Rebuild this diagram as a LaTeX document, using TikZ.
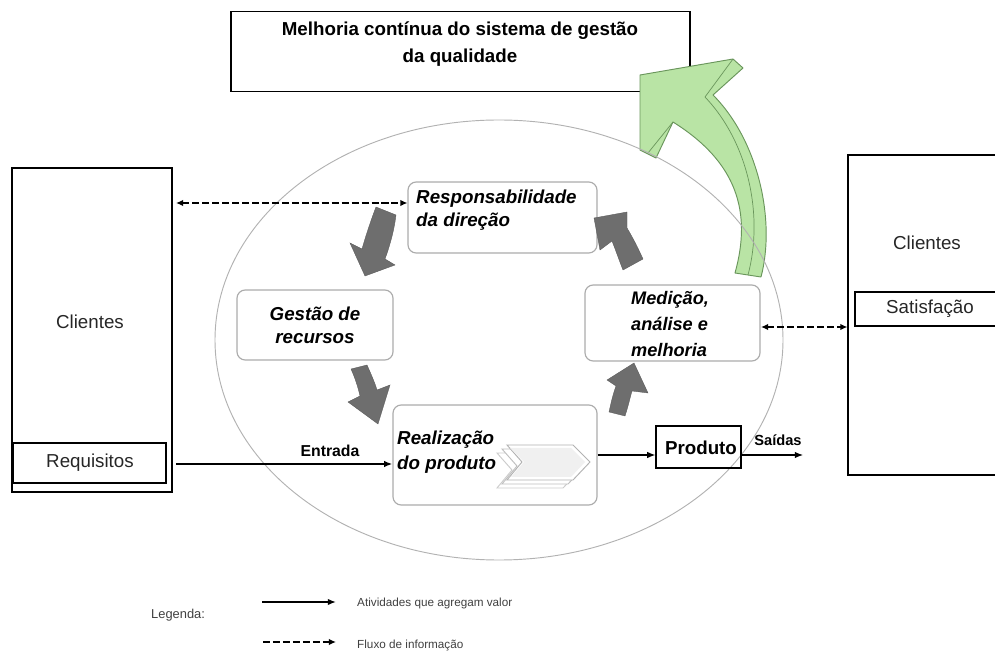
\documentclass[tikz,border=0pt]{standalone}
\usepackage{fontspec}
\setmainfont{Liberation Sans}
\usetikzlibrary{arrows.meta}
\definecolor{garrow}{HTML}{6E6E6E}
\definecolor{gfill}{HTML}{B9E4A5}
\definecolor{gline}{HTML}{6A965C}
\begin{document}
\begin{tikzpicture}[x=0.03cm,y=-0.03cm,
  box/.style={draw=black, line width=1pt, inner sep=0pt},
  rbox/.style={draw=gray!65, line width=1pt, rounded corners=7pt, fill=white, inner sep=0pt},
  lbl/.style={font=\fontsize{16}{19.5}\selectfont\bfseries\itshape, inner sep=0pt},
  plain/.style={font=\fontsize{16}{19}\selectfont, text=black!85, inner sep=0pt},
  small/.style={font=\fontsize{12.5}{15}\selectfont\bfseries, inner sep=0pt},
  leg/.style={font=\fontsize{10}{12}\selectfont, text=black!75, inner sep=0pt, anchor=west},
  sarrow/.style={line width=1pt, -{Latex[length=7pt,width=5.5pt]}},
  darrow/.style={line width=2.1pt, dash pattern=on 6pt off 2.5pt, {Latex[length=6pt,width=5.5pt]}-{Latex[length=6pt,width=5.5pt]}},
  garr/.style={fill=garrow, draw=garrow!80!black, line width=0.3pt},
]
\useasboundingbox (0,0) rectangle (995,654);

% top box
\node[box, minimum width={459*0.03cm}, minimum height={80*0.03cm}] (topbox) at (460.5,51.5) {};
\node[font=\fontsize{16}{23}\selectfont\bfseries, align=center, inner sep=0pt] (toptext) at (460,44)
  {Melhoria contínua do sistema de gestão\\da qualidade};

% green arrow
\fill[gfill, draw=gline, line width=0.8pt, line join=round]
  (640,75) -- (733,59) -- (743,68) -- (713,95)
  .. controls (758,140) and (776,220) .. (761,277)
  -- (735,273)
  .. controls (752,212) and (737,162) .. (673,122)
  -- (656,158) -- (640,150) -- cycle;
\draw[gline, line width=0.6pt] (733,59) -- (705,97) .. controls (748,142) and (764,215) .. (748,275);
\draw[gline, line width=0.6pt] (673,122) -- (648,153);

% ellipse
\draw[gray!60, line width=0.8pt] (499,340) ellipse [x radius=8.52cm, y radius=6.6cm];

% client boxes
\node[box, minimum width={160*0.03cm}, minimum height={324*0.03cm}] (clL) at (92,330) {};
\node[plain] (clLt) at (90,322) {Clientes};
\node[box, minimum width={153*0.03cm}, minimum height={40*0.03cm}] (req) at (89.5,463) {};
\node[plain] (reqt) at (90,463) {Requisitos};

\node[box, minimum width={165*0.03cm}, minimum height={320*0.03cm}] (clR) at (930.5,315) {};
\node[plain] (clRt) at (927,243) {Clientes};
\node[box, minimum width={150*0.03cm}, minimum height={34*0.03cm}] (sat) at (930,309) {};
\node[plain] (satt) at (930,309) {Satisfação};

% process boxes
\node[rbox, minimum width={189*0.03cm}, minimum height={71*0.03cm}] (resp) at (502.5,217.5) {};
\node[lbl, anchor=west, align=left] (respt) at (416,210) {Responsabilidade\\da direção};

\node[rbox, minimum width={156*0.03cm}, minimum height={70*0.03cm}] (gest) at (315,325) {};
\node[lbl, align=center] (gestt) at (315,325) {Gestão de\\recursos};

\node[rbox, minimum width={175*0.03cm}, minimum height={76*0.03cm}] (med) at (672.5,323) {};
\node[lbl, anchor=west, align=left, font=\fontsize{15.5}{22}\selectfont\bfseries\itshape] (medt) at (631,324) {Medição,\\análise e\\melhoria};

\node[rbox, minimum width={204*0.03cm}, minimum height={100*0.03cm}] (real) at (495,455) {};
\node[lbl, anchor=west, align=left, font=\fontsize{16}{21}\selectfont\bfseries\itshape] (realt) at (397,452) {Realização\\do produto};

% chevrons
\foreach \dx/\dy/\c in {-10/8/gray!40, -5/4/gray!50, 0/0/gray!60}{
  \draw[\c, line width=0.8pt, fill=white]
    (507+\dx,445+\dy) -- (573+\dx,445+\dy) -- (590+\dx,462+\dy) -- (573+\dx,480+\dy)
    -- (507+\dx,480+\dy) -- (522+\dx,462+\dy) -- cycle;
}
\fill[gray!12] (510,448) -- (571,448) -- (585,462) -- (571,477) -- (511,477) -- (524,462) -- cycle;

\node[box, minimum width={85*0.03cm}, minimum height={42*0.03cm}] (prod) at (698.5,447) {};
\node[font=\fontsize{16}{19}\selectfont\bfseries, inner sep=0pt] (prodt) at (701,448) {Produto};

% gray cycle arrows
\path[garr] (376,207) -- (396,215) .. controls (394,232) and (389,248) .. (385,259)
  -- (395,265) -- (365,276) -- (350,243) -- (362,249) .. controls (366,235) and (371,220) .. cycle;
\path[garr] (351,369) -- (367,365) .. controls (371,374) and (375,383) .. (377,390)
  -- (390,385) -- (378,424) -- (348,402) -- (360,396) .. controls (358,387) and (355,378) .. cycle;
\path[garr] (609,412) -- (625,416) .. controls (628,407) and (630,398) .. (632,391)
  -- (648,393) -- (634,363) -- (607,380) -- (616,386) .. controls (613,394) and (611,403) .. cycle;
\path[garr] (623,270) -- (643,259) .. controls (638,248) and (633,238) .. (627,228)
  -- (627,212) -- (594,218) -- (600,250) -- (612,241) .. controls (616,251) and (619,260) .. cycle;

% connectors
\coordinate (e1) at (176,464);
\draw[sarrow, line width=1.7pt] (e1) -- (e1 -| real.west);
\node[small, font=\fontsize{13.5}{16}\selectfont\bfseries] (entr) at (330,451) {Entrada};

\draw[sarrow] (real.east) -- (real.east -| prod.west);
\coordinate (s1) at (803,455);
\draw[sarrow] (real.east -| prod.east) -- (s1);
\node[small] (said) at (778,440) {Saídas};

\coordinate (d1) at (176,203);
\draw[darrow] (d1) -- (d1 -| resp.west);
\coordinate (d2) at (761,327);
\draw[darrow] (d2) -- (d2 -| clR.west);

% legend
\node[leg, font=\fontsize{11}{13}\selectfont] (legt) at (151,615) {Legenda:};
\coordinate (l1a) at (262,602);
\coordinate (l1b) at (336,602);
\draw[sarrow, line width=1.2pt] (l1a) -- (l1b);
\node[leg] (leg1) at (357,603) {Atividades que agregam valor};
\coordinate (l2a) at (263,642);
\coordinate (l2b) at (336,642);
\draw[line width=2.1pt, dash pattern=on 6pt off 2.5pt, -{Latex[length=6pt,width=5.5pt]}] (l2a) -- (l2b);
\node[leg] (leg2) at (357,645) {Fluxo de informação};
\end{tikzpicture}
\end{document}
